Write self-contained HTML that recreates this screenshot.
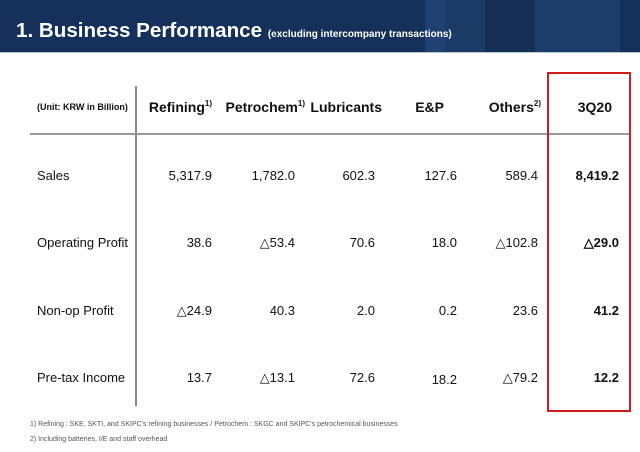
<!DOCTYPE html>
<html><head><meta charset="utf-8"><style>
body{margin:0;width:640px;height:452px;background:#fff;font-family:"Liberation Sans",Arial,sans-serif;position:relative;overflow:hidden}
.band{position:absolute;left:0;top:0;width:640px;height:52px;background:#15305a}
.s{position:absolute;top:0;height:52px}
.line{position:absolute;left:0;top:52px;width:640px;height:1px;background:#b8c3d4}
.t{position:absolute;left:16px;top:19px;color:#fff;font-weight:bold;font-size:20.6px;white-space:nowrap}
.t small{font-size:10px}
.a{position:absolute;white-space:nowrap;color:#111}
.r{text-align:right}
.h{font-weight:bold;font-size:14px}
.h sup{font-size:8px;vertical-align:6px}
.d{font-size:13px}
.b{font-weight:bold}
.fn{position:absolute;left:30px;font-size:7px;color:#555}
</style></head><body>
<div class="band">
<div class="s" style="left:425px;width:20px;background:#1f4273"></div>
<div class="s" style="left:445px;width:40px;background:#1b3a66"></div>
<div class="s" style="left:485px;width:50px;background:#162f56"></div>
<div class="s" style="left:535px;width:85px;background:#1c3c69"></div>
<div class="t">1. Business Performance <small>(excluding intercompany transactions)</small></div>
</div>
<div class="line"></div>
<div style="position:absolute;left:135px;top:86px;width:2px;height:320px;background:#888"></div>
<div style="position:absolute;left:30px;top:133px;width:600px;height:2px;background:#999"></div>
<div style="position:absolute;left:547px;top:72px;width:80px;height:336px;border:2px solid #d01c1c"></div>
<div class="a" style="left:37px;top:102px;font-size:9px;font-weight:bold">(Unit: KRW in Billion)</div>
<div class="a h r" style="right:428px;top:99px">Refining<sup>1)</sup></div>
<div class="a h r" style="right:335px;top:99px">Petrochem<sup>1)</sup></div>
<div class="a h r" style="right:258px;top:99px">Lubricants</div>
<div class="a h r" style="right:196px;top:99px">E&amp;P</div>
<div class="a h r" style="right:99px;top:99px">Others<sup>2)</sup></div>
<div class="a h r" style="right:28px;top:99px">3Q20</div>

<div class="a d" style="left:37px;top:168px">Sales</div>
<div class="a d" style="left:37px;top:235px">Operating Profit</div>
<div class="a d" style="left:37px;top:303px">Non-op Profit</div>
<div class="a d" style="left:37px;top:370px">Pre-tax Income</div>

<div class="a d r" style="right:428px;top:168px">5,317.9</div>
<div class="a d r" style="right:345px;top:168px">1,782.0</div>
<div class="a d r" style="right:265px;top:168px">602.3</div>
<div class="a d r" style="right:183px;top:168px">127.6</div>
<div class="a d r" style="right:102px;top:168px">589.4</div>
<div class="a d r b" style="right:21px;top:168px">8,419.2</div>

<div class="a d r" style="right:428px;top:235px">38.6</div>
<div class="a d r" style="right:345px;top:235px">△53.4</div>
<div class="a d r" style="right:265px;top:235px">70.6</div>
<div class="a d r" style="right:183px;top:235px">18.0</div>
<div class="a d r" style="right:102px;top:235px">△102.8</div>
<div class="a d r b" style="right:21px;top:235px">△29.0</div>

<div class="a d r" style="right:428px;top:303px">△24.9</div>
<div class="a d r" style="right:345px;top:303px">40.3</div>
<div class="a d r" style="right:265px;top:303px">2.0</div>
<div class="a d r" style="right:183px;top:303px">0.2</div>
<div class="a d r" style="right:102px;top:303px">23.6</div>
<div class="a d r b" style="right:21px;top:303px">41.2</div>

<div class="a d r" style="right:428px;top:370px">13.7</div>
<div class="a d r" style="right:345px;top:370px">△13.1</div>
<div class="a d r" style="right:265px;top:370px">72.6</div>
<div class="a d r" style="right:183px;top:372px">18.2</div>
<div class="a d r" style="right:102px;top:370px">△79.2</div>
<div class="a d r b" style="right:21px;top:370px">12.2</div>

<div class="fn" style="top:421px">1) Refining : SKE, SKTI, and SKIPC's refining businesses / Petrochem : SKGC and SKIPC's petrochemical businesses</div>
<div class="fn" style="top:436px">2) Including batteries, I/E and staff overhead</div>
</body></html>
